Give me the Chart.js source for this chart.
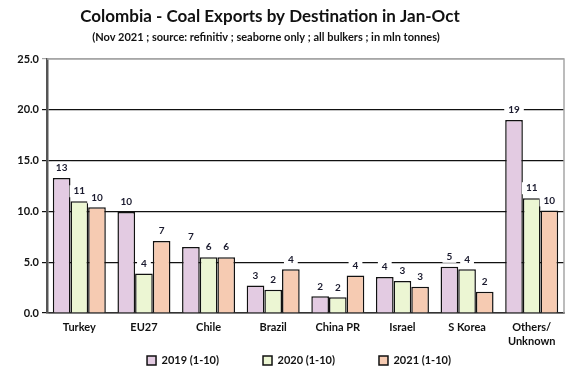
<!DOCTYPE html>
<html>
<head>
<meta charset="utf-8">
<script src="https://cdn.jsdelivr.net/npm/chart.js@4"></script>
<style>
  html, body { margin: 0; padding: 0; background: #fff; }
  #wrap { width: 577px; height: 370px; }
</style>
</head>
<body>
<div id="wrap"><canvas id="coalChart"></canvas></div>
<script>
const categories = ["Turkey", "EU27", "Chile", "Brazil", "China PR", "Israel", "S Korea", ["Others/", "Unknown"]];
const seriesNames = ["2019 (1-10)", "2020 (1-10)", "2021 (1-10)"];
const exports2019 = [13.3, 9.95, 6.5, 2.7, 1.65, 3.55, 4.55, 19.0];
const exports2020 = [11.0, 3.9, 5.5, 2.3, 1.55, 3.15, 4.3, 11.3];
const exports2021 = [10.4, 7.1, 5.5, 4.3, 3.7, 2.6, 2.1, 10.1];
const yTicks = [0, 5, 10, 15, 20, 25];
const titleText = "Colombia - Coal Exports by Destination in Jan-Oct";
const subtitleText = "(Nov 2021 ; source: refinitiv ; seaborne only ; all bulkers ; in mln tonnes)";

const FONT = "Lato, 'Liberation Sans', sans-serif";

// title block, centred a bit left of the canvas like the original
const titles = {
  id: "titles",
  afterDraw(chart) {
    const ctx = chart.ctx;
    ctx.save();
    ctx.fillStyle = "#111";
    ctx.textAlign = "center";
    ctx.textBaseline = "middle";
    ctx.font = "bold 17px " + FONT;
    ctx.fillText(titleText, 270, 17);
    ctx.font = "bold 11px " + FONT;
    ctx.fillText(subtitleText, 266, 37);
    ctx.restore();
  }
};

// value labels with a white box behind them
const barLabels = {
  id: "barLabels",
  afterDatasetsDraw(chart) {
    const ctx = chart.ctx;
    ctx.save();
    ctx.font = "bold 10px " + FONT;
    ctx.textAlign = "center";
    ctx.textBaseline = "middle";
    chart.data.datasets.forEach((ds, i) => {
      chart.getDatasetMeta(i).data.forEach((bar, j) => {
        const txt = String(Math.round(ds.data[j]));
        const w = ctx.measureText(txt).width + 8;
        const y = bar.y - 10;
        ctx.fillStyle = "#fff";
        ctx.fillRect(bar.x - w / 2, y - 6, w, 12);
        ctx.fillStyle = "#1a1a2e";
        ctx.fillText(txt, bar.x, y);
      });
    });
    ctx.restore();
  }
};

// grey frame on top / right of the plot area
const frame = {
  id: "frame",
  beforeDatasetsDraw(chart) {
    const { ctx, chartArea: a } = chart;
    ctx.save();
    ctx.strokeStyle = "#a6a6a6";
    ctx.lineWidth = 1.5;
    ctx.beginPath();
    ctx.moveTo(a.left, a.top);
    ctx.lineTo(a.right, a.top);
    ctx.lineTo(a.right, a.bottom);
    ctx.stroke();
    ctx.restore();
  },
  // legend sits a little right of centre in the original
  afterLayout(chart) {
    chart.legend.left += 17;
    chart.legend.right += 17;
  }
};

const ctx = document.getElementById("coalChart");

new Chart(ctx, {
  type: "bar",
  data: {
    labels: categories,
    datasets: [
      { label: seriesNames[0], data: exports2019, backgroundColor: "#e3cbe2" },
      { label: seriesNames[1], data: exports2020, backgroundColor: "#ecf6d3" },
      { label: seriesNames[2], data: exports2021, backgroundColor: "#f6cbb2" }
    ].map(d => Object.assign(d, {
      borderColor: "#111",
      borderWidth: 1.5,
      borderSkipped: "bottom",
      categoryPercentage: 0.82,
      barPercentage: 1.0
    }))
  },
  options: {
    responsive: true,
    maintainAspectRatio: false,
    animation: false,
    layout: { padding: { left: 0, right: 13, top: 59, bottom: -6 } },
    plugins: {
      title: { display: false },
      legend: {
        position: "bottom",
        labels: {
          color: "#111",
          font: { family: FONT, size: 11, weight: "bold" },
          boxWidth: 9,
          boxHeight: 9,
          padding: 0,
          generateLabels: chart => {
            const items = Chart.defaults.plugins.legend.labels.generateLabels(chart);
            items.forEach((it, i) => { if (i < items.length - 1) it.text += "\u2003\u2003\u2003\u2003\u2002\u2002"; });
            return items;
          }
        }
      },
      tooltip: { enabled: false }
    },
    scales: {
      x: {
        grid: { display: false, drawTicks: false },
        border: { display: true, color: "#333", width: 1.5 },
        ticks: {
          color: "#111",
          font: { family: FONT, size: 11, weight: "bold", lineHeight: 1.27 },
          maxRotation: 0,
          autoSkip: false,
          padding: 7
        }
      },
      y: {
        min: 0,
        max: 25,
        afterBuildTicks: s => { s.ticks = yTicks.map(v => ({ value: v })); },
        afterFit: s => { s.width = 47; },
        border: { display: true, color: "#555", width: 2.5 },
        grid: {
          color: c => (c.tick && c.tick.value === 25 ? "#a6a6a6" : "#111"),
          lineWidth: 1.2,
          tickLength: 5,
          drawTicks: true
        },
        ticks: {
          color: "#111",
          font: { family: FONT, size: 11, weight: "bold" },
          padding: 3,
          callback: v => Number(v).toFixed(1)
        }
      }
    }
  },
  plugins: [frame, barLabels, titles]
});
</script>
</body>
</html>
